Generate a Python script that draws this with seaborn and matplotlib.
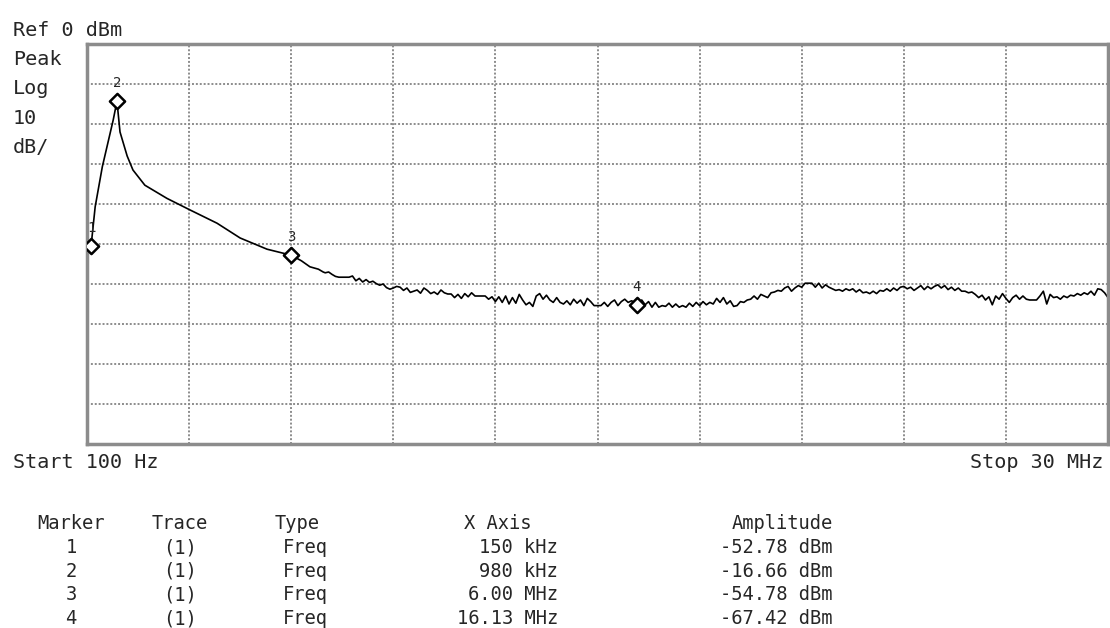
import numpy as np
import pandas as pd
import matplotlib
matplotlib.use("Agg")
from matplotlib import pyplot as plt
import seaborn as sns

# Trace (MHz, dBm as displayed)
# steep part around the peak, read point by point
peak_mhz = [0.0, 0.02, 0.12, 0.24, 0.45, 0.62, 0.77, 0.88, 0.97, 1.18, 1.35,
            1.7, 2.35, 3.03, 3.82, 4.5, 5.29, 6.0, 6.3, 6.55, 6.8, 6.94]
peak_dbm = [-43.3, -51.5, -50.5, -40.7, -30.7, -24.5, -19.0, -14.3, -22.0, -28.0, -31.5,
            -35.3, -38.6, -41.5, -44.8, -48.5, -51.3, -52.8, -54.2, -55.7, -56.3, -57.0]

# noise floor, sweep points every 0.1 MHz from 7.0 to 30.0 MHz
floor_dbm = [
    -57.2, -57.0, -57.6, -58.1, -58.3, -58.3, -58.3, -58.3, -58.0, -59.2,
    -58.6, -59.5, -58.9, -59.6, -59.3, -59.9, -60.3, -60.0, -60.9, -61.3,
    -61.0, -60.6, -60.8, -61.6, -61.0, -62.1, -61.8, -61.5, -62.3, -61.0,
    -61.6, -62.4, -62.0, -62.6, -61.5, -62.2, -62.5, -62.5, -63.4, -62.6,
    -63.6, -62.4, -63.2, -62.2, -63.0, -63.0, -63.0, -63.0, -63.8, -63.2,
    -64.4, -63.2, -64.6, -63.0, -65.0, -63.4, -64.8, -62.6, -64.0, -65.2,
    -64.6, -65.6, -63.0, -62.4, -63.8, -62.8, -64.0, -64.6, -63.4, -64.6,
    -65.0, -64.2, -65.2, -63.8, -64.8, -64.0, -65.4, -63.6, -64.4, -65.4,
    -65.4, -65.4, -64.6, -65.6, -64.6, -64.0, -65.4, -64.4, -63.8, -64.6,
    -64.2, -64.6, -65.0, -64.0, -65.2, -64.4, -65.8, -64.6, -65.8, -65.4,
    -65.6, -64.8, -65.8, -65.0, -65.8, -65.4, -65.8, -64.8, -65.6, -64.6,
    -65.4, -64.4, -65.2, -64.6, -65.0, -63.6, -64.6, -63.4, -65.0, -64.2,
    -65.6, -65.4, -64.4, -64.6, -64.0, -63.8, -63.0, -63.8, -62.6, -63.0,
    -63.4, -62.2, -62.0, -61.6, -61.8, -61.0, -60.6, -61.8, -61.0, -60.4,
    -60.8, -59.8, -59.8, -59.8, -60.8, -59.8, -61.0, -60.2, -60.8, -61.2,
    -61.6, -61.4, -61.8, -61.2, -61.6, -61.2, -62.0, -61.4, -62.2, -62.0,
    -62.4, -61.8, -62.4, -61.6, -61.8, -61.2, -61.8, -61.0, -61.6, -60.8,
    -60.6, -61.2, -60.8, -61.6, -61.0, -60.4, -61.4, -60.6, -61.2, -60.6,
    -60.2, -61.0, -60.4, -61.4, -60.8, -61.6, -61.0, -61.8, -61.8, -62.2,
    -62.0, -62.6, -63.4, -62.8, -64.0, -63.2, -65.2, -63.0, -63.8, -62.4,
    -63.6, -64.6, -63.4, -62.8, -63.8, -63.0, -63.8, -64.0, -64.0, -64.0,
    -63.0, -61.8, -65.0, -62.6, -63.4, -63.2, -63.8, -63.0, -63.4, -62.8,
    -63.0, -62.4, -62.8, -62.2, -62.6, -61.8, -62.8, -61.2, -61.4, -62.2,
    -63.4,
]
floor_mhz = np.round(np.arange(7.0, 30.001, 0.1), 1)

# marker diamonds as they sit on the screen
marker_ids = ["1", "2", "3", "4"]
marker_mhz = [0.12, 0.88, 6.0, 16.16]
marker_dbm = [-50.5, -14.3, -52.8, -65.3]

# marker table text
tbl_header = ["Marker", "Trace", "Type", "X Axis", "Amplitude"]
tbl_trace = ["(1)", "(1)", "(1)", "(1)"]
tbl_type = ["Freq", "Freq", "Freq", "Freq"]
tbl_freq = ["150 kHz", "980 kHz", "6.00 MHz", "16.13 MHz"]
tbl_amp = ["-52.78 dBm", "-16.66 dBm", "-54.78 dBm", "-67.42 dBm"]

trace = pd.DataFrame({
    "mhz": list(peak_mhz) + list(floor_mhz),
    "dbm": list(peak_dbm) + list(floor_dbm),
})
markers = pd.DataFrame({"id": marker_ids, "mhz": marker_mhz, "dbm": marker_dbm})

sns.set_style("white")
plt.rcParams["font.family"] = ["DejaVu Sans Mono"]

W, H = 1110, 628
fig = plt.figure(figsize=(11.1, 6.28), dpi=100)
ax = fig.add_axes([87 / W, 1 - 444 / H, 1021 / W, 400 / H])

sns.lineplot(data=trace, x="mhz", y="dbm", ax=ax, color="black", linewidth=1.2,
             sort=False, estimator=None)
sns.scatterplot(data=markers, x="mhz", y="dbm", ax=ax, marker="D", s=60,
                facecolor="white", edgecolor="black", linewidth=1.8, zorder=5)
for _, r in markers.iterrows():
    ax.annotate(r["id"], (r["mhz"], r["dbm"]), xytext=(0, 8), textcoords="offset points",
                ha="center", va="bottom", fontsize=10)

ax.set_xlim(0, 30)
ax.set_ylim(-100, 0)
ax.set_xticks(np.arange(0, 30.1, 3))
ax.set_yticks(np.arange(-100, 0.1, 10))
ax.grid(True, color="#8c8c8c", linestyle=(0, (1, 1)), linewidth=1.4)
ax.tick_params(left=False, bottom=False, labelleft=False, labelbottom=False)
ax.set_xlabel("")
ax.set_ylabel("")
for s in ax.spines.values():
    s.set_color("#8c8c8c")
    s.set_linewidth(2.5)


def put(x, y, s, size=14.5, ha="left"):
    fig.text(x / W, 1 - y / H, s, fontsize=size, va="baseline", ha=ha)


# screen annotations
put(13, 36, "Ref 0 dBm")
for i, t in enumerate(["Peak", "Log", "10", "dB/"]):
    put(13, 65 + i * 29.3, t)
put(13, 468, "Start 100 Hz")
put(1103, 468, "Stop 30 MHz", ha="right")

# marker table
col_x = [71, 180, 275, 558, 833]
col_ha = ["center", "center", "left", "right", "right"]
for j, h in enumerate(tbl_header):
    hx = {3: 532}.get(j, col_x[j])
    put(hx, 529, h, size=13.5, ha=col_ha[j])
for i in range(4):
    y = 553 + i * 23.7
    row = [marker_ids[i], tbl_trace[i], tbl_type[i], tbl_freq[i], tbl_amp[i]]
    for j, t in enumerate(row):
        x = 283 if j == 2 else col_x[j]
        put(x, y, t, size=13.5, ha=col_ha[j])

fig.savefig("out.png", dpi=100)
